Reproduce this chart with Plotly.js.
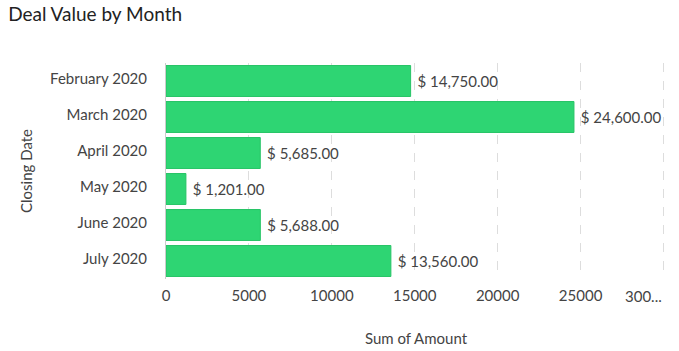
<!DOCTYPE html>
<html><head><meta charset="utf-8">
<script src="https://cdn.plot.ly/plotly-3.0.1.min.js"></script>
<style>html,body{margin:0;padding:0;background:#fff}#chart{width:679px;height:351px}</style>
</head><body><div id="chart"></div>
<script>
const months = ["February 2020","March 2020","April 2020","May 2020","June 2020","July 2020"];
const amounts = [14750, 24600, 5685, 1201, 5688, 13560];
const tickVals = [0,5000,10000,15000,20000,25000,30000];
const tickText = ["0","5000","10000","15000","20000","25000",""];
const lastTickText = "300...";
const labels = amounts.map(v => "\u00a0$ " + v.toLocaleString("en-US",{minimumFractionDigits:2,maximumFractionDigits:2}));

const trace = {
  type: "bar", orientation: "h",
  y: months, x: amounts,
  text: labels, textposition: "outside", cliponaxis: false,
  textfont: {family: "Lato", size: 15, color: "#444"},
  marker: {color: "#2ed573", line: {color: "#27c466", width: 1}},
  width: 0.86, hoverinfo: "none"
};
const layout = {
  width: 679, height: 351,
  margin: {l: 166, r: 13, t: 63, b: 72},
  paper_bgcolor: "#fff", plot_bgcolor: "#fff",
  font: {family: "Lato", color: "#444", size: 15},
  title: {text: "Deal Value by Month", x: 0.012, xanchor: "left", y: 0.96, yanchor: "middle",
          font: {family: "Lato", size: 19, color: "#222"}},
  showlegend: false,
  xaxis: {range: [0, 30150], tickvals: tickVals, ticktext: tickText,
          showgrid: true, gridcolor: "#ddd", griddash: "dash", gridwidth: 1,
          zeroline: false, showline: false, ticks: "", ticklabelstandoff: 6,
          tickfont: {family: "Lato", size: 15, color: "#444"},
          title: {text: "Sum of Amount", standoff: 30, font: {family: "Lato", size: 15, color: "#444"}}},
  yaxis: {autorange: "reversed", showline: true, linecolor: "#ccc", linewidth: 1,
          ticks: "", ticklabelstandoff: 15, ticklabelshift: 2, showgrid: false,
          tickfont: {family: "Lato", size: 15, color: "#444"},
          title: {text: "Closing Date", standoff: 13, font: {family: "Lato", size: 15, color: "#444"}}},
  bargap: 0.14,
  annotations: [{xref: "x", yref: "paper", x: tickVals[6], y: 0, yshift: -6,
                 text: lastTickText, showarrow: false, xanchor: "right", yanchor: "top",
                 font: {family: "Lato", size: 15, color: "#444"}}]
};
Plotly.newPlot("chart", [trace], layout, {staticPlot: true, displayModeBar: false});
</script></body></html>
